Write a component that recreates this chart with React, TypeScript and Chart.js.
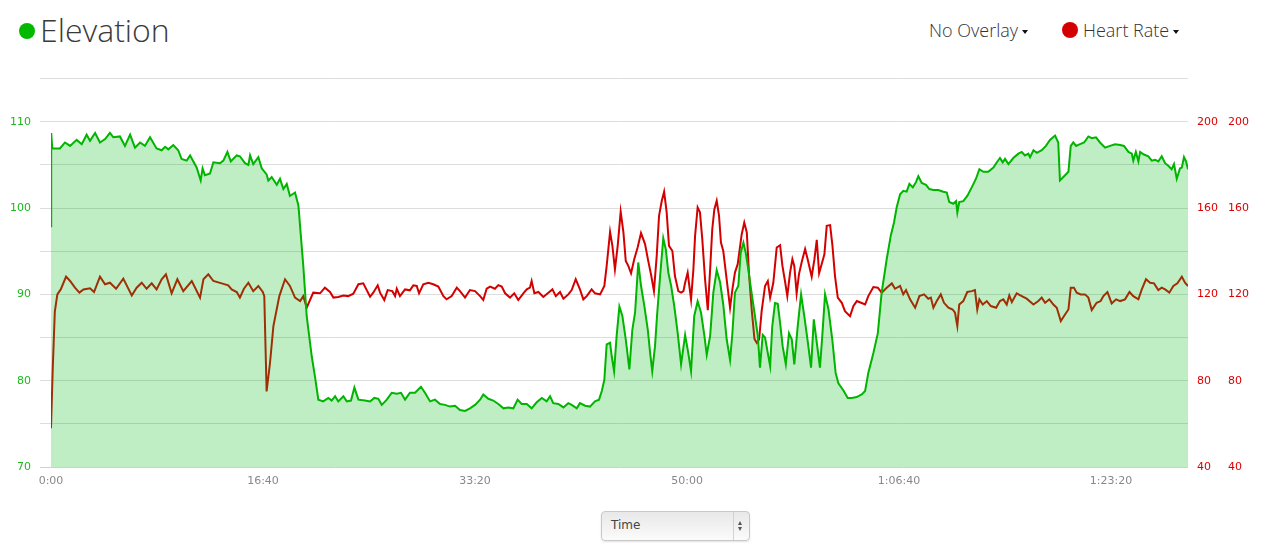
import React, { useEffect, useRef } from "react";
import { Chart, registerables } from "chart.js";

Chart.register(...registerables);

// Time in seconds since start
const elevTimes = [
  0, 1, 6, 42, 66, 90, 121, 145, 168, 184, 208, 231, 255, 278, 294, 325, 349, 373, 396, 420,
  443, 467, 498, 522, 538, 553, 577, 600, 616, 640, 656, 687, 706, 715, 726, 750, 766, 797, 813, 832,
  848, 876, 891, 915, 931, 939, 954, 978, 994, 1017, 1025, 1041, 1065, 1080, 1096, 1112, 1127, 1151, 1167, 1190,
  1206, 1230, 1245, 1261, 1284, 1308, 1324, 1340, 1355, 1379, 1395, 1415, 1431, 1450, 1481, 1505, 1525, 1544, 1560, 1584,
  1607, 1631, 1651, 1670, 1693, 1717, 1745, 1764, 1788, 1811, 1835, 1858, 1882, 1906, 1929, 1953, 1976, 2000, 2024, 2039,
  2063, 2086, 2110, 2134, 2157, 2181, 2201, 2220, 2244, 2267, 2291, 2315, 2338, 2354, 2369, 2393, 2417, 2440, 2456, 2480,
  2495, 2519, 2542, 2566, 2585, 2598, 2610, 2621, 2637, 2645, 2656, 2668, 2681, 2695, 2711, 2728, 2742, 2755, 2770, 2783,
  2799, 2815, 2826, 2836, 2849, 2859, 2873, 2888, 2900, 2912, 2925, 2940, 2956, 2972, 2991, 3006, 3019, 3034, 3050, 3066,
  3082, 3093, 3109, 3124, 3140, 3156, 3171, 3187, 3203, 3214, 3226, 3242, 3253, 3266, 3277, 3289, 3302, 3318, 3334, 3344,
  3357, 3368, 3381, 3392, 3402, 3415, 3428, 3439, 3451, 3466, 3481, 3494, 3506, 3522, 3538, 3553, 3569, 3585, 3598, 3612,
  3627, 3638, 3651, 3667, 3685, 3701, 3714, 3737, 3758, 3777, 3800, 3824, 3840, 3855, 3879, 3900, 3918, 3942, 3961, 3976,
  3989, 4005, 4020, 4036, 4049, 4065, 4080, 4091, 4107, 4127, 4143, 4162, 4185, 4209, 4225, 4237, 4256, 4269, 4275, 4284,
  4303, 4322, 4343, 4363, 4379, 4398, 4421, 4445, 4464, 4476, 4489, 4500, 4516, 4539, 4563, 4579, 4594, 4610, 4618, 4634,
  4650, 4673, 4693, 4712, 4736, 4751, 4759, 4775, 4799, 4810, 4822, 4835, 4854, 4873, 4893, 4909, 4929, 4948, 4972, 4995,
  5019, 5043, 5061, 5082, 5098, 5105, 5117, 5129, 5137, 5155, 5176, 5192, 5208, 5223, 5239, 5255, 5270, 5286, 5297, 5310,
  5325, 5334, 5344, 5354, 5363,
];

// Elevation (left axis)
const elevValues = [
  97.9, 108.7, 106.9, 106.9, 107.6, 107.2, 107.9, 107.4, 108.5, 107.8, 108.7, 107.6, 108.0, 108.7, 108.2, 108.3, 107.2, 108.5, 107.0, 107.6,
  107.2, 108.2, 106.9, 106.7, 107.1, 106.8, 107.3, 106.7, 105.7, 105.5, 106.1, 104.7, 103.2, 104.6, 103.8, 104.0, 105.3, 105.2, 105.5, 106.5,
  105.4, 106.1, 106.0, 105.2, 105.0, 106.1, 105.1, 105.9, 104.6, 103.9, 103.2, 103.6, 102.7, 103.4, 102.2, 102.8, 101.4, 101.8, 100.3, 93.3,
  87.5, 82.8, 80.5, 77.8, 77.6, 78.0, 77.7, 78.2, 77.6, 78.2, 77.6, 77.7, 79.2, 77.8, 77.7, 77.6, 78.0, 77.9, 77.2, 77.8,
  78.6, 78.5, 78.6, 77.8, 78.6, 78.6, 79.3, 78.6, 77.6, 77.8, 77.3, 77.2, 77.0, 77.1, 76.6, 76.5, 76.8, 77.2, 77.8, 78.4,
  77.9, 77.7, 77.3, 76.8, 76.9, 76.8, 77.8, 77.3, 77.3, 76.8, 77.5, 78.0, 77.6, 78.2, 77.4, 77.3, 76.9, 77.4, 77.2, 76.8,
  77.4, 77.1, 77.0, 77.6, 77.8, 78.8, 80.1, 84.2, 84.4, 82.8, 81.1, 85.2, 88.6, 87.5, 84.8, 81.3, 85.9, 87.9, 93.7, 91.0,
  88.6, 85.9, 83.2, 81.1, 84.0, 87.7, 92.1, 96.5, 95.2, 92.5, 91.0, 88.6, 85.5, 81.9, 85.3, 83.2, 81.1, 87.5, 89.2, 87.9,
  85.2, 83.0, 85.2, 90.2, 92.8, 91.4, 88.8, 84.8, 82.4, 85.5, 90.2, 91.0, 94.8, 96.0, 94.8, 92.9, 90.6, 87.9, 85.2, 81.5,
  85.3, 85.0, 83.2, 81.7, 86.3, 89.0, 88.9, 86.7, 84.0, 81.9, 85.5, 84.8, 81.9, 86.3, 90.0, 87.5, 84.6, 81.5, 87.1, 84.4,
  81.5, 85.2, 90.0, 88.3, 84.8, 80.9, 79.7, 78.9, 78.0, 78.0, 78.1, 78.4, 78.8, 80.9, 83.2, 85.5, 90.2, 94.1, 96.8, 98.3,
  100.1, 101.6, 102.0, 101.9, 102.8, 102.4, 103.0, 103.7, 102.9, 102.7, 102.2, 102.1, 102.1, 101.9, 101.8, 100.7, 100.5, 100.8, 99.5, 100.7,
  100.8, 101.4, 102.4, 103.4, 104.5, 104.2, 104.2, 104.7, 105.4, 105.8, 105.3, 105.7, 105.1, 105.8, 106.3, 106.5, 106.1, 106.3, 105.9, 106.7,
  106.4, 106.7, 107.2, 107.9, 108.4, 107.6, 103.2, 103.6, 104.2, 107.2, 107.6, 107.2, 107.4, 107.6, 108.3, 108.1, 108.2, 107.6, 107.0, 107.2,
  107.4, 107.3, 107.2, 106.5, 106.3, 105.5, 106.5, 105.4, 106.5, 106.2, 106.0, 105.5, 105.6, 105.4, 106.0, 105.2, 104.9, 104.5, 105.1, 103.4,
  104.6, 104.7, 105.9, 105.4, 104.5,
];

const hrTimes = [
  0, 8, 18, 30, 46, 71, 90, 113, 134, 153, 184, 203, 231, 255, 278, 307, 341, 381, 404, 428,
  451, 475, 498, 522, 542, 569, 596, 624, 664, 703, 719, 742, 766, 805, 836, 852, 876, 891, 910, 931,
  954, 978, 999, 1006, 1017, 1033, 1049, 1077, 1104, 1127, 1151, 1175, 1190, 1206, 1237, 1269, 1292, 1316, 1332, 1355,
  1379, 1402, 1426, 1450, 1473, 1505, 1520, 1541, 1552, 1572, 1588, 1610, 1623, 1631, 1646, 1670, 1693, 1709, 1725, 1736,
  1756, 1780, 1803, 1827, 1851, 1866, 1890, 1914, 1929, 1953, 1976, 2000, 2024, 2039, 2055, 2071, 2094, 2110, 2126, 2142,
  2165, 2185, 2204, 2228, 2244, 2259, 2267, 2280, 2299, 2322, 2346, 2365, 2381, 2401, 2417, 2440, 2456, 2475, 2495, 2511,
  2527, 2550, 2566, 2590, 2610, 2621, 2637, 2648, 2660, 2673, 2687, 2700, 2711, 2723, 2736, 2751, 2767, 2783, 2802, 2817,
  2830, 2844, 2857, 2868, 2881, 2892, 2904, 2915, 2931, 2943, 2959, 2972, 2983, 2991, 3003, 3019, 3030, 3038, 3050, 3061,
  3072, 3085, 3098, 3109, 3119, 3129, 3140, 3151, 3160, 3171, 3187, 3203, 3214, 3226, 3239, 3258, 3270, 3282, 3292, 3305,
  3318, 3329, 3340, 3352, 3368, 3381, 3392, 3407, 3423, 3439, 3450, 3462, 3473, 3486, 3497, 3506, 3517, 3528, 3541, 3557,
  3569, 3588, 3601, 3612, 3623, 3635, 3648, 3659, 3675, 3686, 3698, 3711, 3730, 3745, 3769, 3785, 3801, 3821, 3840, 3855,
  3879, 3900, 3918, 3942, 3966, 3981, 4005, 4020, 4033, 4052, 4076, 4096, 4118, 4138, 4150, 4162, 4178, 4197, 4212, 4233,
  4253, 4264, 4275, 4284, 4303, 4322, 4343, 4358, 4369, 4379, 4395, 4414, 4433, 4458, 4476, 4492, 4508, 4520, 4532, 4555,
  4579, 4602, 4634, 4657, 4673, 4689, 4709, 4728, 4744, 4763, 4783, 4799, 4810, 4825, 4838, 4857, 4877, 4893, 4909, 4932,
  4951, 4964, 4983, 5003, 5024, 5043, 5066, 5087, 5105, 5129, 5145, 5165, 5184, 5203, 5223, 5239, 5255, 5275, 5294, 5313,
  5334, 5349, 5363,
];

// Heart rate (right axis)
const hrValues = [
  58, 85, 112, 120, 122.3, 128.2, 126.2, 123.1, 120.8, 122.3, 122.8, 121.1, 128.2, 124.7, 125.4, 122.6, 127.3, 119.5, 123.1, 125.4,
  122.6, 125.1, 122.3, 127.0, 129.3, 120.5, 127.0, 121.5, 126.2, 118.5, 127.0, 129.3, 126.2, 125.1, 124.2, 122.3, 121.1, 118.5, 122.6, 125.4,
  121.5, 123.9, 121.1, 119.2, 75.0, 88.2, 105.3, 119.2, 127.0, 123.9, 118.5, 116.9, 119.2, 113.8, 120.8, 120.5, 123.1, 121.1, 118.5, 118.8,
  119.5, 119.2, 120.3, 124.7, 125.1, 118.9, 120.8, 124.2, 120.8, 117.4, 122.0, 121.5, 119.2, 122.6, 119.2, 122.3, 121.9, 124.2, 123.9, 120.5,
  124.7, 125.4, 124.7, 123.6, 119.2, 117.7, 119.2, 123.1, 121.5, 118.5, 122.0, 121.5, 119.2, 117.4, 122.6, 123.6, 122.6, 124.3, 123.6, 120.5,
  118.5, 120.5, 117.4, 120.5, 122.3, 123.1, 126.2, 120.5, 121.1, 118.8, 120.8, 122.3, 119.2, 121.1, 118.0, 120.0, 122.0, 127.0, 122.3, 117.7,
  119.2, 122.3, 120.5, 120.0, 123.9, 133.2, 149.0, 142.5, 131.6, 142.5, 158.3, 148.7, 135.5, 133.2, 129.8, 136.3, 141.7, 148.4, 143.3, 135.5,
  129.3, 121.5, 137.8, 156.4, 163.4, 167.6, 158.0, 142.5, 140.1, 128.5, 121.5, 120.8, 121.5, 125.4, 130.1, 117.7, 131.6, 147.1, 160.3, 158.0,
  145.6, 127.0, 112.7, 131.6, 150.2, 159.5, 163.4, 156.4, 144.0, 140.1, 127.0, 113.8, 122.3, 130.1, 134.0, 147.9, 153.3, 148.7, 130.1, 113.0,
  99.4, 97.5, 99.1, 112.2, 123.9, 126.2, 118.5, 125.4, 141.7, 142.8, 133.2, 126.2, 119.2, 130.1, 136.3, 133.2, 120.5, 129.3, 135.0, 141.0,
  136.3, 128.2, 136.3, 145.3, 129.8, 134.0, 138.6, 151.8, 152.1, 142.5, 128.5, 118.5, 116.1, 112.2, 109.9, 114.6, 116.9, 116.1, 115.3, 119.2,
  123.4, 123.1, 120.8, 123.1, 125.1, 122.6, 123.9, 120.0, 122.0, 117.7, 113.8, 119.2, 120.0, 118.0, 118.5, 113.8, 116.9, 120.0, 116.1, 113.8,
  113.0, 111.5, 105.3, 115.3, 116.9, 121.1, 121.5, 122.0, 113.0, 117.7, 115.3, 116.9, 114.6, 113.8, 116.9, 117.7, 115.3, 119.5, 116.4, 120.5,
  119.2, 118.0, 115.3, 116.9, 118.5, 116.1, 117.7, 115.3, 113.8, 107.6, 110.7, 113.0, 123.1, 123.1, 120.8, 120.0, 120.0, 118.5, 112.7, 116.1,
  116.9, 119.2, 121.1, 115.8, 117.7, 116.9, 117.7, 121.1, 119.2, 117.7, 122.3, 127.0, 125.4, 125.1, 122.0, 123.1, 122.3, 120.8, 123.9, 125.1,
  128.2, 125.4, 123.9,
];

const X_MAX = 5363;
const xTickValues = [0, 1000, 2000, 3000, 4000, 5000];
const elevGridValues = [70, 75, 80, 85, 90, 95, 100, 105, 110, 115];
const hrTickValues = [40, 80, 120, 160, 200];

function fmtTime(total: number): string {
  const h = Math.floor(total / 3600);
  const m = Math.floor((total % 3600) / 60);
  const s = Math.floor(total % 60);
  const ss = String(s).padStart(2, "0");
  if (h > 0) return `${h}:${String(m).padStart(2, "0")}:${ss}`;
  return `${m}:${ss}`;
}

const TICK_FONT = { family: "'DejaVu Sans', Verdana, sans-serif", size: 11 };
const GREEN_TEXT = "#1cb81c";
const RED_TEXT = "#dd0000";

export default function App() {
  const canvasRef = useRef<HTMLCanvasElement | null>(null);

  useEffect(() => {
    if (!canvasRef.current) return;
    const elevData = elevTimes.map((t, i) => ({ x: t, y: elevValues[i] }));
    const hrData = hrTimes.map((t, i) => ({ x: t, y: hrValues[i] }));

    const hrAxis = (width: number, weight: number) => ({
      type: "linear" as const,
      position: "right" as const,
      weight,
      min: 40,
      max: 220,
      afterBuildTicks: (s: any) => {
        s.ticks = hrTickValues.map((v) => ({ value: v }));
      },
      afterFit: (s: any) => {
        s.width = width;
      },
      grid: { display: false, drawTicks: false },
      border: { display: false },
      ticks: {
        color: RED_TEXT,
        font: TICK_FONT,
        padding: 9,
        autoSkip: false,
        callback: (v: any) => String(v),
      },
    });

    const chart = new Chart(canvasRef.current, {
      type: "line",
      data: {
        datasets: [
          {
            label: "Heart Rate",
            data: hrData,
            yAxisID: "yHR",
            borderColor: "#d40000",
            borderWidth: 2,
            pointRadius: 0,
            fill: false,
            order: 2,
          },
          {
            label: "Elevation",
            data: elevData,
            yAxisID: "yElev",
            borderColor: "#00b400",
            backgroundColor: "rgba(0,186,18,0.25)",
            borderWidth: 2,
            pointRadius: 0,
            fill: "start",
            order: 1,
          },
        ],
      },
      options: {
        animation: false,
        responsive: false,
        maintainAspectRatio: false,
        devicePixelRatio: 1,
        layout: { padding: { top: 5, left: 0, right: 0, bottom: 0 } },
        plugins: {
          legend: { display: false },
          tooltip: { enabled: false },
        },
        scales: {
          x: {
            type: "linear",
            min: 0,
            max: X_MAX,
            afterBuildTicks: (s: any) => {
              s.ticks = xTickValues.map((v) => ({ value: v }));
            },
            afterFit: (s: any) => {
              s.height = 33;
            },
            grid: { display: false, drawTicks: false },
            border: { display: false },
            ticks: {
              color: "#888888",
              font: TICK_FONT,
              padding: 8,
              maxRotation: 0,
              autoSkip: false,
              callback: (v: any) => fmtTime(Number(v)),
            },
          },
          yElev: {
            type: "linear",
            position: "left",
            min: 70,
            max: 115,
            afterBuildTicks: (s: any) => {
              s.ticks = elevGridValues.map((v) => ({ value: v }));
            },
            afterFit: (s: any) => {
              s.width = 51;
            },
            grid: {
              color: (ctx: any) => (ctx.tick && ctx.tick.value === 70 ? "#c4d3e3" : "#dddddd"),
              tickColor: (ctx: any) => (ctx.tick && ctx.tick.value === 70 ? "#c4d3e3" : "#dddddd"),
              tickLength: 11,
              drawTicks: true,
              lineWidth: 1,
            },
            border: { display: false },
            ticks: {
              color: GREEN_TEXT,
              font: TICK_FONT,
              padding: 9,
              autoSkip: false,
              callback: (v: any) => (Number(v) % 10 === 0 ? String(v) : ""),
            },
          },
          yHR: hrAxis(31, 0),
          yHR2: hrAxis(56, 1),
        },
      },
    } as any);
    return () => chart.destroy();
  }, []);

  const caret = (left: number) => (
    <div
      style={{
        position: "absolute",
        left,
        top: 30,
        width: 0,
        height: 0,
        borderLeft: "3px solid transparent",
        borderRight: "3px solid transparent",
        borderTop: "4px solid #111",
      }}
    />
  );

  return (
    <div
      style={{
        position: "absolute",
        left: 0,
        top: 0,
        width: 1275,
        height: 560,
        background: "#ffffff",
        overflow: "hidden",
      }}
    >
      {/* Title */}
      <div
        style={{
          position: "absolute",
          left: 19,
          top: 23,
          width: 16,
          height: 16,
          borderRadius: "50%",
          background: "#00b900",
        }}
      />
      <div
        style={{
          position: "absolute",
          left: 40,
          top: 14,
          fontFamily: "'Open Sans', sans-serif",
          fontWeight: 300,
          fontSize: 32,
          lineHeight: "32px",
          color: "#3a3a3a",
          whiteSpace: "nowrap",
        }}
      >
        Elevation
      </div>

      {/* Overlay selectors */}
      <div
        style={{
          position: "absolute",
          left: 929,
          top: 21,
          fontFamily: "'Open Sans', sans-serif",
          fontWeight: 300,
          fontSize: 18,
          lineHeight: "18px",
          color: "#333333",
          whiteSpace: "nowrap",
        }}
      >
        No Overlay
      </div>
      {caret(1022)}
      <div
        style={{
          position: "absolute",
          left: 1062,
          top: 22,
          width: 16,
          height: 16,
          borderRadius: "50%",
          background: "#d40000",
        }}
      />
      <div
        style={{
          position: "absolute",
          left: 1083,
          top: 21,
          fontFamily: "'Open Sans', sans-serif",
          fontWeight: 300,
          fontSize: 18,
          lineHeight: "18px",
          color: "#333333",
          whiteSpace: "nowrap",
        }}
      >
        Heart Rate
      </div>
      {caret(1173)}

      {/* Chart */}
      <canvas
        ref={canvasRef}
        width={1275}
        height={437}
        style={{ position: "absolute", left: 0, top: 63, width: 1275, height: 437 }}
      />

      {/* Time selector */}
      <div
        style={{
          position: "absolute",
          left: 601,
          top: 511,
          width: 147,
          height: 28,
          border: "1px solid #c8c8c8",
          borderRadius: 4,
          background: "linear-gradient(#e8e8e8, #fbfbfb)",
          boxShadow: "0 1px 2px rgba(0,0,0,0.12)",
          fontFamily: "'DejaVu Sans', Verdana, sans-serif",
          fontSize: 12,
          color: "#444444",
        }}
      >
        <div style={{ position: "absolute", left: 9, top: 6 }}>Time</div>
        <div
          style={{
            position: "absolute",
            left: 131,
            top: 0,
            width: 1,
            height: 28,
            background: "#d2d2d2",
          }}
        />
        <div
          style={{
            position: "absolute",
            left: 136,
            top: 9,
            width: 0,
            height: 0,
            borderLeft: "2.5px solid transparent",
            borderRight: "2.5px solid transparent",
            borderBottom: "4px solid #555",
          }}
        />
        <div
          style={{
            position: "absolute",
            left: 136,
            top: 15,
            width: 0,
            height: 0,
            borderLeft: "2.5px solid transparent",
            borderRight: "2.5px solid transparent",
            borderTop: "4px solid #555",
          }}
        />
      </div>
    </div>
  );
}
